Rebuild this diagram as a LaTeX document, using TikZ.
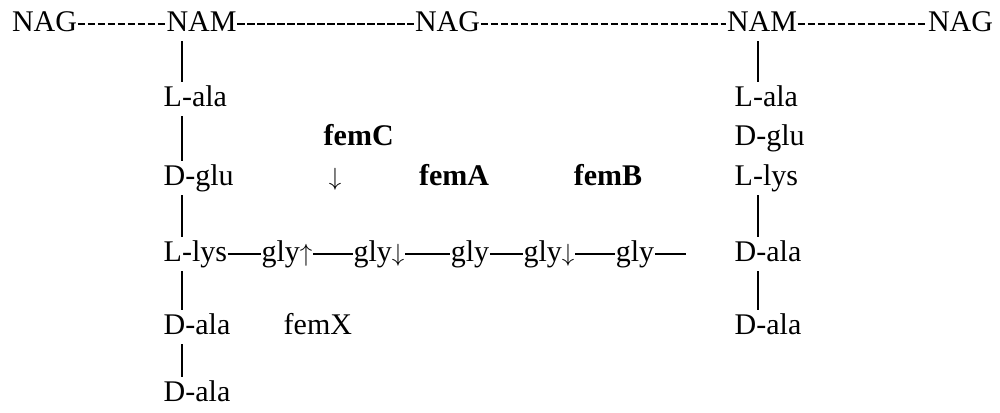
\documentclass[tikz,border=0pt]{standalone}
\usepackage{fontspec}
\setmainfont{Liberation Serif}
\usetikzlibrary{positioning}

\begin{document}
\begin{tikzpicture}[x=1pt,y=-1pt,font=\fontsize{30pt}{36pt}\selectfont,node distance=26pt,
  unit/.style={inner xsep=0.5pt,inner ysep=1pt,text height=21.6pt,text depth=6.6pt},
  bond/.style={line width=1.6pt,shorten <=2pt,shorten >=2pt},
  peptide/.style={line width=1.5pt},
  backbone/.style={line width=1.8pt,dash pattern=on 7.5pt off 2.5pt}]
\useasboundingbox (0,0) rectangle (1000,412);
\coordinate (colL) at (182,0);
\coordinate (colR) at (758,0);

\node[unit] (nag1) at (44.5,24) {NAG};
\node[unit] (nam1) at (201.5,24) {NAM};
\node[unit] (nag2) at (447.5,24) {NAG};
\node[unit] (nam2) at (762,24) {NAM};
\node[unit] (nag3) at (960.5,24) {NAG};
\draw[backbone] (nag1) -- (nam1);
\draw[backbone] (nam1) -- (nag2);
\draw[backbone] (nag2) -- (nam2);
\draw[backbone] (nam2) -- (nag3);

\node[unit,anchor=west] (lala1) at (163,99) {L-ala};
\node[unit,anchor=west] (dglu1) at (163,178) {D-glu};
\node[unit,anchor=west] (llys1) at (163,254) {L-lys};
\node[unit,anchor=west] (dala1) at (163,327) {D-ala};
\node[unit,anchor=west] (dala2) at (163,394) {D-ala};
\draw[bond] (nam1.south -| colL) -- (lala1.north -| colL);
\draw[bond] (lala1.south -| colL) -- (dglu1.north -| colL);
\draw[bond] (dglu1.south -| colL) -- (llys1.north -| colL);
\draw[bond] (llys1.south -| colL) -- (dala1.north -| colL);
\draw[bond] (dala1.south -| colL) -- (dala2.north -| colL);

\node[unit] (gly1) at (287,254) {gly$\uparrow$};
\node[unit] (gly2) at (379,254) {gly$\downarrow$};
\node[unit] (gly3) at (470,254) {gly};
\node[unit] (gly4) at (549,254) {gly$\downarrow$};
\node[unit] (gly5) at (635,254) {gly};
\coordinate (bridge) at (686,254);
\draw[peptide] (llys1) -- (gly1);
\draw[peptide] (gly1) -- (gly2);
\draw[peptide] (gly2) -- (gly3);
\draw[peptide] (gly3) -- (gly4);
\draw[peptide] (gly4) -- (gly5);
\draw[peptide] (gly5) -- (bridge);

\node[unit,anchor=west] (femc) at (323,138) {\textbf{femC}};
\node[unit] (femcarrow) at (335,178) {$\downarrow$};
\node[unit] (fema) at (454,178) {\textbf{femA}};
\node[unit] (femb) at (608,178) {\textbf{femB}};
\node[unit,anchor=west] (femx) at (283,327) {femX};

\node[unit,anchor=west] (lala2) at (734,99) {L-ala};
\node[unit,anchor=west] (dglu2) at (734,138) {D-glu};
\node[unit,anchor=west] (llys2) at (734,178) {L-lys};
\node[unit,anchor=west] (dala3) at (734,254) {D-ala};
\node[unit,anchor=west] (dala4) at (734,327) {D-ala};
\draw[bond] (nam2.south -| colR) -- (lala2.north -| colR);
\draw[bond] (llys2.south -| colR) -- (dala3.north -| colR);
\draw[bond] (dala3.south -| colR) -- (dala4.north -| colR);
\end{tikzpicture}
\end{document}
